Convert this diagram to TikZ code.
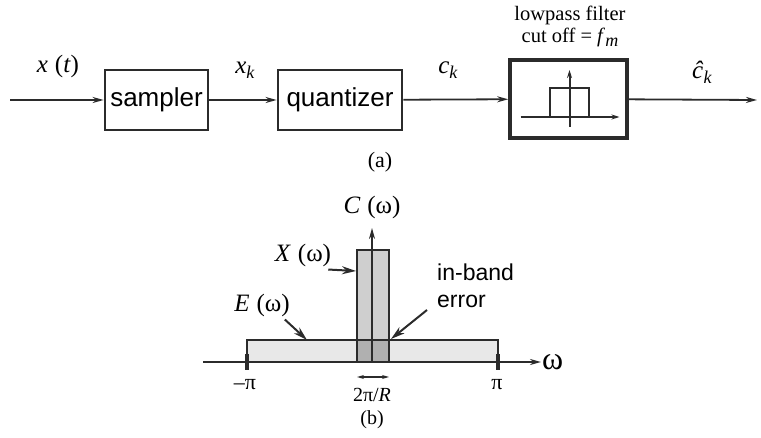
\documentclass[tikz,border=0pt]{standalone}
\usepackage{fontspec}
\setmainfont{Liberation Serif}
\setsansfont{Liberation Sans}
\usetikzlibrary{positioning,arrows.meta}
\definecolor{ink}{HTML}{2B2B2B}
\colorlet{efill}{gray!18}
\colorlet{xfill}{gray!38}
\colorlet{ofill}{gray!62}
\tikzset{
  >={Stealth[length=11pt,width=6pt]},
  % --- nodes
  blk/.style   = {draw=ink, line width=2.8pt, minimum height=60pt, inner sep=0pt,
                  font=\sffamily\fontsize{26}{30}\selectfont},
  filt/.style  = {blk, line width=3.6pt, minimum width=117pt, minimum height=78pt},
  sig/.style   = {font=\fontsize{25}{28}\selectfont, inner sep=1pt},
  note/.style  = {font=\fontsize{20.5}{22}\selectfont, align=center, inner sep=1pt},
  captn/.style = {font=\fontsize{20}{22}\selectfont, inner sep=0pt},
  sanslbl/.style = {font=\sffamily\fontsize{23}{27}\selectfont, align=left, inner sep=1pt},
  % --- edges
  e/.style     = {->, line width=1.8pt, draw=ink},
  ptr/.style   = {-{Stealth[length=14pt,width=8pt]}, line width=2pt, draw=ink},
  tickmk/.style  = {line width=3.6pt, draw=ink},
}
\newcommand{\sig}[2]{\textit{#1}\raisebox{-0.45ex}{\fontsize{18}{20}\selectfont\textit{#2}}}

\begin{document}
\begin{tikzpicture}[x=1pt,y=-1pt]
  \useasboundingbox (0,0) rectangle (761,438);

  % (a) block chain
  \coordinate (in)  at (10,100);
  \coordinate (out) at (757,100);
  \node[blk, minimum width=103pt] (smp) at (156.5,100) {sampler};
  \node[blk, minimum width=124pt] (qnt) at (340,100)   {quantizer};
  \node[filt] (lpf) at (568.5,99) {};

  \draw[e] (in)  -- (smp);
  \draw[e] (smp) -- (qnt);
  \draw[e] (qnt) -- (lpf);
  \draw[e] (lpf) -- (out);

  % little lowpass sketch inside the filter
  \begin{scope}[shift={(lpf.center)}, line width=2pt, draw=ink]
    \draw[->, >={Stealth[length=8pt,width=5pt]}] (-48,18) -- (51,18);
    \draw[->, >={Stealth[length=8pt,width=5pt]}] (1,28) -- (1,-29);
    \draw (-19,18) -- (-19,-11) -- (20,-11) -- (20,18);
  \end{scope}

  \node[sig] (xt)  at (58,66)  {\textit{x}\;(\textit{t})};
  \node[sig] (xk)  at (245,70) {\sig{x}{k}};
  \node[sig] (ck)  at (448,70) {\sig{c}{k}};
  \node[sig] (chk) at (702,72) {\sig{\^{c}}{k}};
  \node[note] (lpfl) at (570,26) {lowpass filter\\cut off = \sig{f}{m}};
  \node[captn, font=\fontsize{22}{24}\selectfont] (capa) at (380,162) {(a)};

  % (b) spectrum
  \coordinate (Etl) at (247,340);
  \coordinate (Ebr) at (498,362);
  \coordinate (Xtl) at (357,250);
  \coordinate (Xbr) at (389,362);
  \fill[efill] (Etl) rectangle (Ebr);
  \fill[xfill] (Xtl) rectangle (Xbr);
  \fill[ofill] (357,340) rectangle (Xbr);
  \draw[ink, line width=1.4pt] (Etl) rectangle (Ebr);
  \draw[ink, line width=1.4pt] (Xtl) rectangle (Xbr);

  \coordinate (wl) at (203,362);
  \coordinate (wr) at (541,362);
  \coordinate (c0) at (372,362);
  \coordinate (ct) at (372,228);
  \draw[e] (wl) -- (wr);
  \draw[e] (c0) -- (ct);
  \node[font=\fontsize{32}{34}\selectfont, anchor=west, inner sep=1pt] (w) at (wr) {ω};
  \node[sig] (Cl) at (372,207) {\textit{C}\;(ω)};

  \draw[tickmk] (247,354) -- (247,370);
  \draw[tickmk] (498,354) -- (498,370);
  \node[captn, font=\fontsize{22}{24}\selectfont] (mpi) at (245,385) {–π};
  \node[captn, font=\fontsize{22}{24}\selectfont] (ppi) at (497,385) {π};

  \node[sig] (Xl) at (303,255) {\textit{X}\;(ω)};
  \node[sig] (El) at (262,305) {\textit{E}\;(ω)};
  \node[sanslbl, anchor=west] (ibl) at (436,286) {in-band\\error};
  \coordinate (Xtip) at (356,271);
  \coordinate (Etip) at (307,340);
  \coordinate (itip) at (391,339);
  \draw[ptr] (Xl.south east) ++(-4,2) -- (Xtip);
  \draw[ptr] (El.south east) ++(-6,2) -- (Etip);
  \draw[ptr] (427,310) -- (itip);

  \draw[<->, >={Stealth[length=7pt,width=4pt]}, line width=1.2pt, ink]
    (357,377) -- (389,377);
  \node[captn] (bw) at (372,395) {2π/\textit{R}};
  \node[captn] (capb) at (372,420) {(b)};
\end{tikzpicture}
\end{document}
